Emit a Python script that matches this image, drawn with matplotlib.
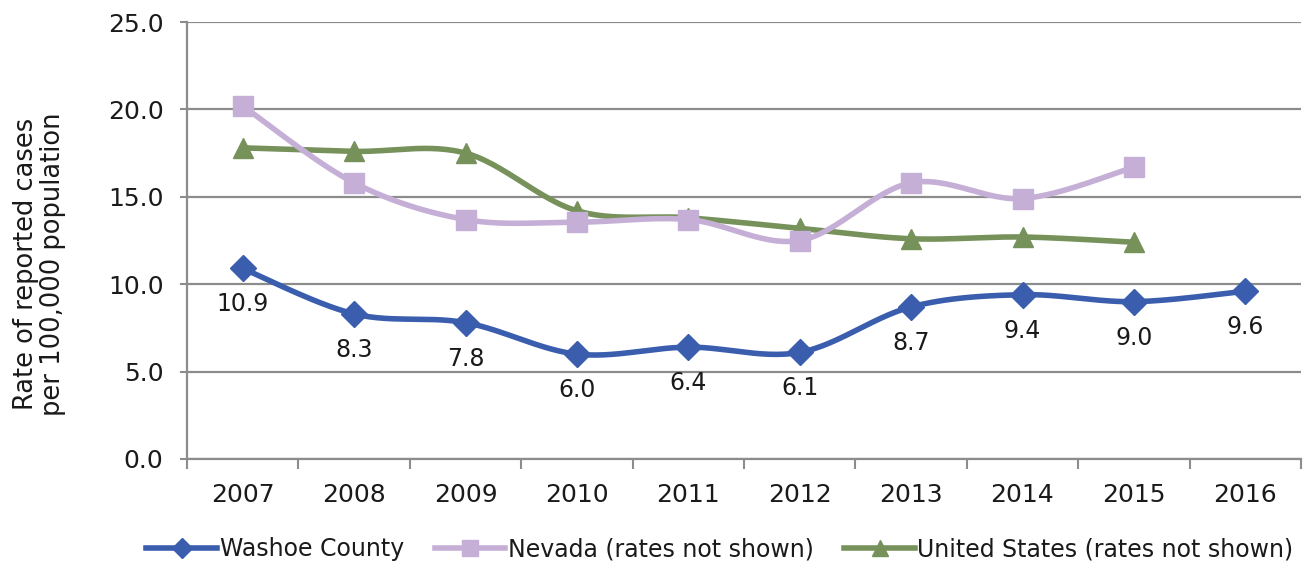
import numpy as np
import matplotlib.pyplot as plt

years = ["2007", "2008", "2009", "2010", "2011", "2012", "2013", "2014", "2015", "2016"]
washoe = [10.9, 8.3, 7.8, 6.0, 6.4, 6.1, 8.7, 9.4, 9.0, 9.6]
nevada = [20.2, 15.8, 13.7, 13.55, 13.7, 12.5, 15.8, 14.9, 16.7]
usa = [17.8, 17.6, 17.5, 14.2, 13.8, 13.2, 12.6, 12.7, 12.4]

blue = "#3A5DAE"
lavender = "#C6AFD6"
green = "#76915A"
grey = "#8C8C8C"

plt.rcParams["font.family"] = ["DejaVu Sans"]


def smooth(y, n=30):
    # Catmull-Rom style bezier, like Excel's smoothed lines
    x = np.arange(len(y), dtype=float)
    y = np.asarray(y, dtype=float)
    P = np.column_stack([x, y])
    pts = []
    for i in range(len(P) - 1):
        p0 = P[i - 1] if i > 0 else P[i]
        p1 = P[i]
        p2 = P[i + 1]
        p3 = P[i + 2] if i + 2 < len(P) else P[i + 1]
        c1 = p1 + (p2 - p0) / 6.0
        c2 = p2 - (p3 - p1) / 6.0
        t = np.linspace(0, 1, n)[:, None]
        seg = ((1 - t) ** 3) * p1 + 3 * ((1 - t) ** 2) * t * c1 + 3 * (1 - t) * t ** 2 * c2 + t ** 3 * p2
        pts.append(seg if i == 0 else seg[1:])
    pts = np.vstack(pts)
    return pts[:, 0], pts[:, 1]


fig = plt.figure(figsize=(13.03, 5.63), dpi=100)
ax = fig.add_axes([187 / 1303, 1 - 459 / 563, (1301 - 187) / 1303, (459 - 22) / 563])

series = [
    (washoe, blue, "D", 13, "Washoe County"),
    (nevada, lavender, "s", 14, "Nevada (rates not shown)"),
    (usa, green, "^", 15, "United States (rates not shown)"),
]
handles = []
for vals, col, mk, ms, lab in reversed(series):
    sx, sy = smooth(vals)
    ax.plot(sx, sy, color=col, lw=4, solid_capstyle="round", zorder=3)
    ax.plot(np.arange(len(vals)), vals, ls="none", marker=mk, ms=ms, color=col, zorder=4)

for vals, col, mk, ms, lab in series:
    h, = ax.plot([], [], color=col, lw=4, marker=mk, ms=ms * 0.8, label=lab)
    handles.append(h)

for i, v in enumerate(washoe):
    ax.annotate(f"{v:.1f}", (i, v), xytext=(0, -36), textcoords="offset pixels",
                ha="center", va="center", fontsize=17, color="#1a1a1a")

ax.set_xlim(-0.5, len(years) - 0.5)
ax.set_ylim(0, 25)
ax.set_yticks(np.arange(0, 25.1, 5))
ax.set_yticklabels([f"{t:.1f}" for t in np.arange(0, 25.1, 5)])
ax.set_xticks(range(len(years)))
ax.set_xticklabels(years)
ax.set_xticks(np.arange(-0.5, len(years), 1), minor=True)
ax.tick_params(axis="x", which="major", length=0, pad=17, labelsize=18, labelcolor="#1a1a1a")
ax.tick_params(axis="x", which="minor", length=7, width=1.5, color=grey, direction="out")
ax.tick_params(axis="y", length=5, width=1.5, color=grey, pad=12, labelsize=18, labelcolor="#1a1a1a")

ax.grid(axis="y", color=grey, lw=1.6)
ax.set_axisbelow(True)
for s in ["top", "right"]:
    ax.spines[s].set_visible(False)
for s in ["left", "bottom"]:
    ax.spines[s].set_color(grey)
    ax.spines[s].set_linewidth(1.6)

fig.text(40 / 1303, 1 - 264 / 563, "Rate of reported cases\nper 100,000 population", rotation=90,
         ha="center", va="center", fontsize=18.5, color="#1a1a1a", linespacing=1.05)

fig.legend(handles=handles, loc="center", bbox_to_anchor=(720 / 1303, 1 - 549 / 563), ncol=3,
           frameon=False, fontsize=17, handlelength=3.0, handletextpad=0.1, columnspacing=1.3,
           labelcolor="#1a1a1a")

fig.savefig("out.png", dpi=100)
